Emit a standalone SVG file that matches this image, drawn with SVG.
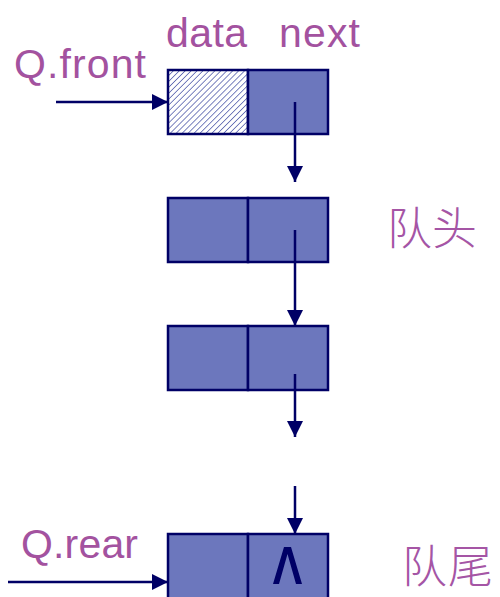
<svg xmlns="http://www.w3.org/2000/svg" width="500" height="597" viewBox="0 0 500 597">
<style>
.cell{fill:#6c77bd;stroke:#000066;stroke-width:2.5}
.lbl{font-family:"Liberation Sans",Arial,sans-serif;font-size:41px;fill:#a3529f}
.cjk{font-family:"Noto Sans CJK SC",sans-serif;font-size:45px;fill:#a555a5;font-weight:300}
.ln{stroke:#000066;stroke-width:2.5;fill:none}
</style>
<defs>
<pattern id="hatch" patternUnits="userSpaceOnUse" width="4.2" height="4.2" patternTransform="rotate(45)">
<rect width="4.2" height="4.2" fill="#ffffff"/>
<line x1="0" y1="0" x2="0" y2="4.2" stroke="#5c66b0" stroke-width="1.6"/>
</pattern>
<marker id="ah" markerWidth="16" markerHeight="16" viewBox="0 0 16 16" refX="16" refY="8" orient="auto" markerUnits="userSpaceOnUse">
<path d="M0,0 L16,8 L0,16 Z" fill="#000066"/>
</marker>
</defs>
<text class="lbl" x="166" y="47" textLength="81">data</text>
<text class="lbl" x="279" y="47" textLength="81">next</text>
<text class="lbl" x="14" y="78" textLength="132">Q.front</text>
<text class="lbl" x="21" y="558" textLength="117">Q.rear</text>
<text class="cjk" x="387" y="245" textLength="90">队头</text>
<text class="cjk" x="402" y="583" textLength="91">队尾</text>
<g id="node0">
<rect x="168" y="70" width="80" height="64" fill="url(#hatch)" stroke="#000066" stroke-width="2.5"/>
<rect class="cell" x="248" y="70" width="80" height="64"/>
</g>
<g id="node1">
<rect class="cell" x="168" y="198" width="80" height="64"/>
<rect class="cell" x="248" y="198" width="80" height="64"/>
</g>
<g id="node2">
<rect class="cell" x="168" y="326" width="80" height="64"/>
<rect class="cell" x="248" y="326" width="80" height="64"/>
</g>
<g id="node3">
<rect class="cell" x="168" y="534" width="80" height="70"/>
<rect class="cell" x="248" y="534" width="80" height="70"/>
<path d="M273,584 L284,547 L291,547 L302,584 L296,584 L287.5,554 L279,584 Z" fill="#000066"/>
</g>
<g id="connectors">
<line class="ln" x1="56" y1="102" x2="168" y2="102" marker-end="url(#ah)"/>
<line class="ln" x1="8" y1="582" x2="168" y2="582" marker-end="url(#ah)"/>
<line class="ln" x1="295" y1="102" x2="295" y2="182" marker-end="url(#ah)"/>
<line class="ln" x1="295" y1="230" x2="295" y2="326" marker-end="url(#ah)"/>
<line class="ln" x1="295" y1="374" x2="295" y2="437" marker-end="url(#ah)"/>
<line class="ln" x1="295" y1="486" x2="295" y2="534" marker-end="url(#ah)"/>
</g>
</svg>
